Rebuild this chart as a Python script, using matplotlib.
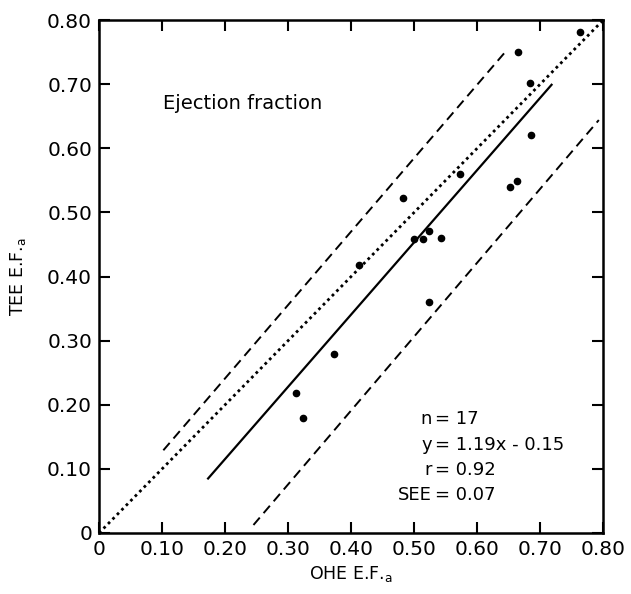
import matplotlib
matplotlib.use("Agg")
import matplotlib.pyplot as plt

plt.rcParams['font.family'] = ['DejaVu Sans']

# Data
ohe = [0.763, 0.664, 0.683, 0.685, 0.572, 0.483, 0.652, 0.663, 0.500,
       0.514, 0.524, 0.543, 0.412, 0.523, 0.373, 0.313, 0.323]
tee = [0.781, 0.750, 0.701, 0.621, 0.560, 0.522, 0.540, 0.549, 0.458,
       0.459, 0.471, 0.460, 0.418, 0.360, 0.279, 0.219, 0.179]

identity_x = [0.0, 0.80]
identity_y = [0.0, 0.80]
fit_x = [0.173, 0.718]
fit_y = [0.085, 0.699]
upper_x = [0.102, 0.647]
upper_y = [0.129, 0.753]
lower_x = [0.245, 0.793]
lower_y = [0.0125, 0.644]

ticks = [0.0, 0.1, 0.2, 0.3, 0.4, 0.5, 0.6, 0.7, 0.8]
tick_labels = ['0', '0.10', '0.20', '0.30', '0.40', '0.50', '0.60', '0.70', '0.80']

stats_lhs = ['n', 'y', 'r', 'SEE']
stats_rhs = ['= 17', '= 1.19x - 0.15', '= 0.92', '= 0.07']

fig = plt.figure(figsize=(6.31, 5.94), dpi=100)
ax = fig.add_axes([0.157, 0.1027, 0.799, 0.8636])

ax.plot(identity_x, identity_y, linestyle=(0, (1, 1.3)), color='black', lw=2)
ax.plot(fit_x, fit_y, linestyle='-', color='black', lw=1.6)
ax.plot(upper_x, upper_y, linestyle=(0, (5, 3)), color='black', lw=1.4)
ax.plot(lower_x, lower_y, linestyle=(0, (5, 3)), color='black', lw=1.4)
ax.plot(ohe, tee, 'o', color='black', markersize=4.5, linestyle='none')

ax.set_xlim(0, 0.8)
ax.set_ylim(0, 0.8)
ax.set_xticks(ticks)
ax.set_yticks(ticks)
ax.set_xticklabels(tick_labels, fontsize=14.5)
ax.set_yticklabels(tick_labels, fontsize=14.5)
ax.tick_params(direction='in', top=True, right=True, length=8, width=1.5, pad=5)
for s in ax.spines.values():
    s.set_linewidth(1.8)

ax.set_xlabel('OHE E.F.$_\\mathregular{a}$', fontsize=12.5, labelpad=4)
ax.set_ylabel('TEE E.F.$_\\mathregular{a}$', fontsize=12.5, labelpad=14)

ax.text(0.101, 0.670, 'Ejection fraction', fontsize=14, ha='left', va='center')

y0 = 0.177
dy = 0.039
for i, (l, r) in enumerate(zip(stats_lhs, stats_rhs)):
    yy = y0 - i * dy
    ax.text(0.528, yy, l, fontsize=13, ha='right', va='center')
    ax.text(0.533, yy, r, fontsize=13, ha='left', va='center')

fig.savefig('out.png', dpi=100)
